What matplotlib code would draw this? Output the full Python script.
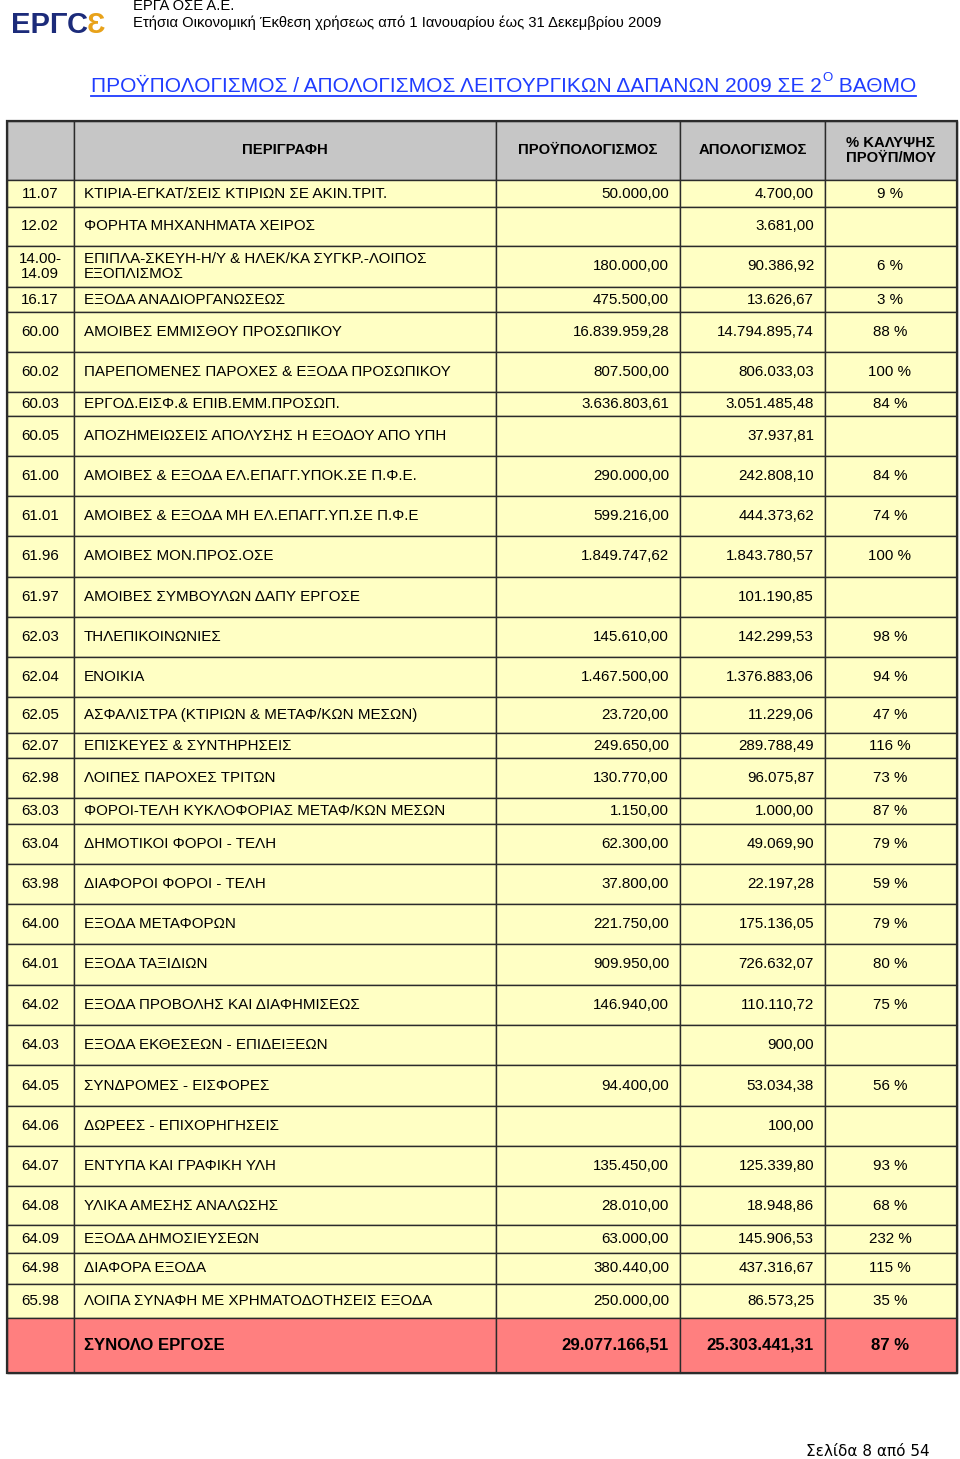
import matplotlib
matplotlib.use('Agg')
import matplotlib.pyplot as plt
from matplotlib.patches import Rectangle

plt.rcParams['font.family'] = ['Liberation Sans', 'DejaVu Sans']

# ---- data -------------------------------------------------------------
codes = ['11.07', '12.02', '14.00-\n14.09', '16.17', '60.00', '60.02', '60.03', '60.05',
         '61.00', '61.01', '61.96', '61.97', '62.03', '62.04', '62.05', '62.07', '62.98',
         '63.03', '63.04', '63.98', '64.00', '64.01', '64.02', '64.03', '64.05', '64.06',
         '64.07', '64.08', '64.09', '64.98', '65.98']
descriptions = [
    'ΚΤΙΡΙΑ-ΕΓΚΑΤ/ΣΕΙΣ ΚΤΙΡΙΩΝ ΣΕ ΑΚΙΝ.ΤΡΙΤ.',
    'ΦΟΡΗΤΑ ΜΗΧΑΝΗΜΑΤΑ ΧΕΙΡΟΣ',
    'ΕΠΙΠΛΑ-ΣΚΕΥΗ-Η/Υ & ΗΛΕΚ/ΚΑ ΣΥΓΚΡ.-ΛΟΙΠΟΣ\nΕΞΟΠΛΙΣΜΟΣ',
    'ΕΞΟΔΑ ΑΝΑΔΙΟΡΓΑΝΩΣΕΩΣ',
    'ΑΜΟΙΒΕΣ ΕΜΜΙΣΘΟΥ ΠΡΟΣΩΠΙΚΟΥ',
    'ΠΑΡΕΠΟΜΕΝΕΣ ΠΑΡΟΧΕΣ & ΕΞΟΔΑ ΠΡΟΣΩΠΙΚΟΥ',
    'ΕΡΓΟΔ.ΕΙΣΦ.& ΕΠΙΒ.ΕΜΜ.ΠΡΟΣΩΠ.',
    'ΑΠΟΖΗΜΕΙΩΣΕΙΣ ΑΠΟΛΥΣΗΣ Η ΕΞΟΔΟΥ ΑΠΟ ΥΠΗ',
    'ΑΜΟΙΒΕΣ & ΕΞΟΔΑ ΕΛ.ΕΠΑΓΓ.ΥΠΟΚ.ΣΕ Π.Φ.Ε.',
    'ΑΜΟΙΒΕΣ & ΕΞΟΔΑ ΜΗ ΕΛ.ΕΠΑΓΓ.ΥΠ.ΣΕ Π.Φ.Ε',
    'ΑΜΟΙΒΕΣ ΜΟΝ.ΠΡΟΣ.ΟΣΕ',
    'ΑΜΟΙΒΕΣ ΣΥΜΒΟΥΛΩΝ ΔΑΠΥ ΕΡΓΟΣΕ',
    'ΤΗΛΕΠΙΚΟΙΝΩΝΙΕΣ',
    'ΕΝΟΙΚΙΑ',
    'ΑΣΦΑΛΙΣΤΡΑ (ΚΤΙΡΙΩΝ & ΜΕΤΑΦ/ΚΩΝ ΜΕΣΩΝ)',
    'ΕΠΙΣΚΕΥΕΣ & ΣΥΝΤΗΡΗΣΕΙΣ',
    'ΛΟΙΠΕΣ ΠΑΡΟΧΕΣ ΤΡΙΤΩΝ',
    'ΦΟΡΟΙ-ΤΕΛΗ ΚΥΚΛΟΦΟΡΙΑΣ ΜΕΤΑΦ/ΚΩΝ ΜΕΣΩΝ',
    'ΔΗΜΟΤΙΚΟΙ ΦΟΡΟΙ - ΤΕΛΗ',
    'ΔΙΑΦΟΡΟΙ ΦΟΡΟΙ - ΤΕΛΗ',
    'ΕΞΟΔΑ ΜΕΤΑΦΟΡΩΝ',
    'ΕΞΟΔΑ ΤΑΞΙΔΙΩΝ',
    'ΕΞΟΔΑ ΠΡΟΒΟΛΗΣ ΚΑΙ ΔΙΑΦΗΜΙΣΕΩΣ',
    'ΕΞΟΔΑ ΕΚΘΕΣΕΩΝ - ΕΠΙΔΕΙΞΕΩΝ',
    'ΣΥΝΔΡΟΜΕΣ - ΕΙΣΦΟΡΕΣ',
    'ΔΩΡΕΕΣ - ΕΠΙΧΟΡΗΓΗΣΕΙΣ',
    'ΕΝΤΥΠΑ ΚΑΙ ΓΡΑΦΙΚΗ ΥΛΗ',
    'ΥΛΙΚΑ ΑΜΕΣΗΣ ΑΝΑΛΩΣΗΣ',
    'ΕΞΟΔΑ ΔΗΜΟΣΙΕΥΣΕΩΝ',
    'ΔΙΑΦΟΡΑ ΕΞΟΔΑ',
    'ΛΟΙΠΑ ΣΥΝΑΦΗ ΜΕ ΧΡΗΜΑΤΟΔΟΤΗΣΕΙΣ ΕΞΟΔΑ',
]
budget = ['50.000,00', '', '180.000,00', '475.500,00', '16.839.959,28', '807.500,00',
          '3.636.803,61', '', '290.000,00', '599.216,00', '1.849.747,62', '', '145.610,00',
          '1.467.500,00', '23.720,00', '249.650,00', '130.770,00', '1.150,00', '62.300,00',
          '37.800,00', '221.750,00', '909.950,00', '146.940,00', '', '94.400,00', '',
          '135.450,00', '28.010,00', '63.000,00', '380.440,00', '250.000,00']
actual = ['4.700,00', '3.681,00', '90.386,92', '13.626,67', '14.794.895,74', '806.033,03',
          '3.051.485,48', '37.937,81', '242.808,10', '444.373,62', '1.843.780,57', '101.190,85',
          '142.299,53', '1.376.883,06', '11.229,06', '289.788,49', '96.075,87', '1.000,00',
          '49.069,90', '22.197,28', '175.136,05', '726.632,07', '110.110,72', '900,00',
          '53.034,38', '100,00', '125.339,80', '18.948,86', '145.906,53', '437.316,67', '86.573,25']
coverage = ['9 %', '', '6 %', '3 %', '88 %', '100 %', '84 %', '', '84 %', '74 %', '100 %', '',
            '98 %', '94 %', '47 %', '116 %', '73 %', '87 %', '79 %', '59 %', '79 %', '80 %',
            '75 %', '', '56 %', '', '93 %', '68 %', '232 %', '115 %', '35 %']
total_label = 'ΣΥΝΟΛΟ ΕΡΓΟΣΕ'
total_budget = '29.077.166,51'
total_actual = '25.303.441,31'
total_coverage = '87 %'
headers = ['', 'ΠΕΡΙΓΡΑΦΗ', 'ΠΡΟΫΠΟΛΟΓΙΣΜΟΣ', 'ΑΠΟΛΟΓΙΣΜΟΣ', '% ΚΑΛΥΨΗΣ\nΠΡΟΫΠ/ΜΟΥ']

# ---- layout (pixels) ---------------------------------------------------
col_edges = [7, 74, 496, 680, 825, 957]
header_top, header_h = 121, 59
row_heights = [27, 39, 41, 25, 40, 40, 24, 40, 40, 40, 41, 40, 40, 40, 36, 25, 40,
               26, 40, 40, 40, 41, 40, 40, 41, 40, 40, 39, 28, 31, 34]
total_h = 55
BODY = 10.9

YELLOW = '#ffffc4'
GREY = '#c6c6c6'
RED = '#ff7f7f'
LINE = '#2b2b2b'
NAVY = '#1c2b7a'
ORANGE = '#e8a21a'
BLUE = '#1f3cff'

fig = plt.figure(figsize=(9.6, 14.59), dpi=100)
ax = fig.add_axes([0, 0, 1, 1])
ax.set_xlim(0, 960)
ax.set_ylim(1459, 0)
ax.axis('off')
fig.canvas.draw()
renderer = fig.canvas.get_renderer()
inv = ax.transData.inverted()


def right_edge(t):
    return inv.transform((t.get_window_extent(renderer).x1, 0))[0]


def draw_row(top, h, fill, texts, bold=False, size=BODY):
    for i in range(5):
        x0, x1 = col_edges[i], col_edges[i + 1]
        ax.add_patch(Rectangle((x0, top), x1 - x0, h, facecolor=fill,
                               edgecolor=LINE, linewidth=1.0))
    yc = top + h / 2
    w = 'bold' if bold else 'normal'
    code, desc, b, a, c = texts
    ax.text(40, yc, code, ha='center', va='center', fontsize=size, weight=w,
            linespacing=1.1)
    ax.text(84, yc, desc, ha='left', va='center', fontsize=size, weight=w,
            linespacing=1.1)
    ax.text(669, yc, b, ha='right', va='center', fontsize=size, weight=w)
    ax.text(814, yc, a, ha='right', va='center', fontsize=size, weight=w)
    ax.text(890, yc, c, ha='center', va='center', fontsize=size, weight=w)


# header row
for i in range(5):
    x0, x1 = col_edges[i], col_edges[i + 1]
    ax.add_patch(Rectangle((x0, header_top), x1 - x0, header_h, facecolor=GREY,
                           edgecolor=LINE, linewidth=1.0))
    ax.text((x0 + x1) / 2, header_top + header_h / 2, headers[i], ha='center',
            va='center', fontsize=10.7, weight='bold', linespacing=1.1)

y = header_top + header_h
for i in range(len(codes)):
    draw_row(y, row_heights[i], YELLOW,
             [codes[i], descriptions[i], budget[i], actual[i], coverage[i]])
    y += row_heights[i]

draw_row(y, total_h, RED, ['', total_label, total_budget, total_actual, total_coverage],
         bold=True, size=12.1)
y += total_h

# outer frame
ax.add_patch(Rectangle((col_edges[0], header_top), col_edges[-1] - col_edges[0],
                       y - header_top, fill=False, edgecolor=LINE, linewidth=1.6))

# ---- page header -------------------------------------------------------
x = 11
for part, col in [('ΕΡΓ', NAVY), ('C', NAVY), ('Ɛ', ORANGE)]:
    t = ax.text(x, 25, part, ha='left', va='center', fontsize=21, weight='bold',
                color=col)
    x = right_edge(t) - 1
ax.text(133, 6, 'ΕΡΓΑ ΟΣΕ Α.Ε.', ha='left', va='center', fontsize=10.6)
ax.text(133, 23, 'Ετήσια Οικονομική Έκθεση χρήσεως από 1 Ιανουαρίου έως 31 Δεκεμβρίου 2009',
        ha='left', va='center', fontsize=10.6)

# title with superscript and underline
t1 = ax.text(91, 86, 'ΠΡΟΫΠΟΛΟΓΙΣΜΟΣ / ΑΠΟΛΟΓΙΣΜΟΣ ΛΕΙΤΟΥΡΓΙΚΩΝ ΔΑΠΑΝΩΝ 2009 ΣΕ 2',
             ha='left', va='center', fontsize=15, color=BLUE)
t2 = ax.text(right_edge(t1) + 1, 78, 'Ο', ha='left', va='center', fontsize=9.5, color=BLUE)
t3 = ax.text(right_edge(t2), 86, ' ΒΑΘΜΟ', ha='left', va='center', fontsize=15, color=BLUE)
ax.plot([91, right_edge(t3)], [95.5, 95.5], color=BLUE, linewidth=1.3)

# footer
ax.text(930, 1452, 'Σελίδα 8 από 54', ha='right', va='center', fontsize=11,
        family=['DejaVu Sans'])

fig.savefig('out.png', dpi=100, facecolor='white')
